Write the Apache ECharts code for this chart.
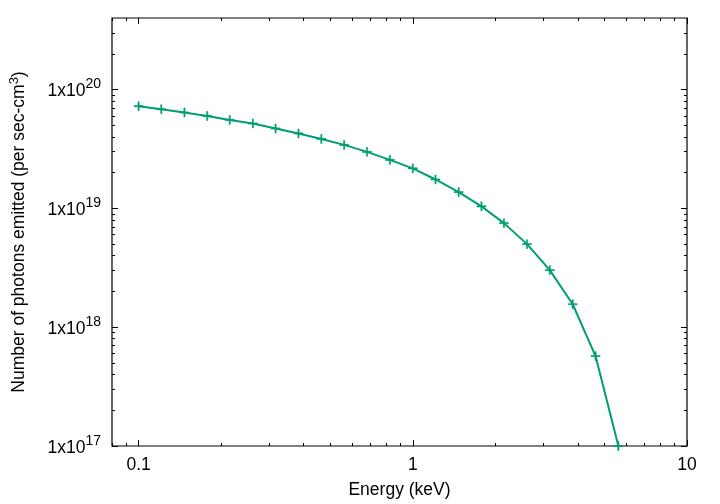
<!DOCTYPE html>
<html><head><meta charset="utf-8">
<script src="https://cdn.jsdelivr.net/npm/echarts@6/dist/echarts.min.js"></script>
<style>html,body{margin:0;padding:0;background:#fff}#c{width:720px;height:504px}</style>
</head><body><div id="c"></div><script>
// Data
const energy = [0.1, 0.121, 0.147, 0.178, 0.215, 0.261, 0.316, 0.383, 0.464, 0.562, 0.681, 0.825,
                1.0, 1.21, 1.47, 1.78, 2.15, 2.61, 3.16, 3.83, 4.64, 5.62];
const photons = [7.24e19, 6.83e19, 6.41e19, 6.0e19, 5.55e19, 5.18e19, 4.70e19, 4.27e19, 3.84e19, 3.42e19, 2.99e19, 2.56e19,
                 2.17e19, 1.75e19, 1.37e19, 1.04e19, 7.51e18, 5.0e18, 3.02e18, 1.56e18, 5.71e17, 1.0e17];
const xRange = [0.08, 10];
const yRange = [1e17, 4e20];
const xMajorTicks = [0.1, 1, 10];
const xMinorTicks = [0.08, 0.09, 0.2, 0.3, 0.4, 0.5, 0.6, 0.7, 0.8, 0.9, 2, 3, 4, 5, 6, 7, 8, 9];
const yMajorTicks = [1e17, 1e18, 1e19, 1e20];
const yMinorTicks = [2e17, 3e17, 4e17, 5e17, 6e17, 7e17, 8e17, 9e17,
                     2e18, 3e18, 4e18, 5e18, 6e18, 7e18, 8e18, 9e18,
                     2e19, 3e19, 4e19, 5e19, 6e19, 7e19, 8e19, 9e19,
                     2e20, 3e20];
const xTitle = 'Energy (keV)';
const yTitle = 'Number of photons emitted (per sec-cm{s|3})';

const FONT = '"Liberation Sans", Arial, Helvetica, sans-serif';
const FS = 17.5;
const GREEN = '#009e73';
const lg = v => Math.log10(v);
const isPow10 = v => Math.abs(lg(v) - Math.round(lg(v))) < 1e-6;

function tickAxis(position, ticks, len, range) {
  return {
    type: 'value', gridIndex: 0, position: position,
    min: lg(range[0]), max: lg(range[1]),
    axisLine: { show: false, onZero: false },
    axisLabel: { show: false },
    splitLine: { show: false },
    axisTick: { show: true, inside: true, length: len, customValues: ticks.map(lg),
                lineStyle: { color: '#000', width: 1 } }
  };
}

const chart = echarts.init(document.getElementById('c'), null, { renderer: 'canvas' });
chart.setOption({
  animation: false,
  backgroundColor: '#fff',
  textStyle: { fontFamily: FONT },
  grid: { left: 110, right: 33, top: 18, bottom: 58, show: true, borderColor: '#000', borderWidth: 1.2, backgroundColor: 'transparent' },
  xAxis: [
    {
      type: 'log', logBase: 10, min: xRange[0], max: xRange[1], position: 'bottom',
      axisLine: { show: false, onZero: false }, axisTick: { show: false }, splitLine: { show: false },
      axisLabel: {
        show: true, margin: 10, fontSize: FS, color: '#000', fontFamily: FONT,
        showMinLabel: false,
        formatter: v => isPow10(v) ? String(Number(v.toPrecision(3))) : ''
      },
      name: xTitle, nameLocation: 'middle', nameGap: 35,
      nameTextStyle: { fontSize: FS, color: '#000', fontFamily: FONT }
    },
    tickAxis('bottom', xMajorTicks, 6, xRange),
    tickAxis('bottom', xMinorTicks, 3, xRange),
    tickAxis('top', xMajorTicks, 6, xRange),
    tickAxis('top', xMinorTicks, 3, xRange)
  ],
  yAxis: [
    {
      type: 'log', logBase: 10, min: yRange[0], max: yRange[1], position: 'left',
      axisLine: { show: false, onZero: false }, axisTick: { show: false }, splitLine: { show: false },
      axisLabel: {
        show: true, margin: 11, color: '#000', fontFamily: FONT,
        showMaxLabel: false,
        formatter: v => isPow10(v) ? '{b|1x10}{s|' + Math.round(lg(v)) + '}' : '',
        rich: {
          b: { fontSize: FS, color: '#000', fontFamily: FONT, padding: [4, 0, 0, 0] },
          s: { fontSize: 14, color: '#000', fontFamily: FONT, padding: [0, 0, 10, 0] }
        }
      },
      name: yTitle, nameLocation: 'middle', nameGap: 82,
      nameTextStyle: {
        fontSize: FS, color: '#000', fontFamily: FONT,
        rich: {
          s: { fontSize: 13, color: '#000', fontFamily: FONT, padding: [0, 0, 9, 0] }
        }
      }
    },
    tickAxis('left', yMajorTicks, 6, yRange),
    tickAxis('left', yMinorTicks, 3, yRange),
    tickAxis('right', yMajorTicks, 6, yRange),
    tickAxis('right', yMinorTicks, 3, yRange)
  ],
  series: [{
    type: 'line', xAxisIndex: 0, yAxisIndex: 0,
    data: energy.map((e, i) => [e, photons[i]]),
    symbol: 'path://M-1,-0.13L-0.13,-0.13L-0.13,-1L0.13,-1L0.13,-0.13L1,-0.13L1,0.13L0.13,0.13L0.13,1L-0.13,1L-0.13,0.13L-1,0.13Z',
    symbolSize: 9, showSymbol: true, clip: true,
    lineStyle: { color: GREEN, width: 2 },
    itemStyle: { color: GREEN, borderColor: GREEN, borderWidth: 0.6 },
    emphasis: { disabled: true }
  }]
});
</script></body></html>
